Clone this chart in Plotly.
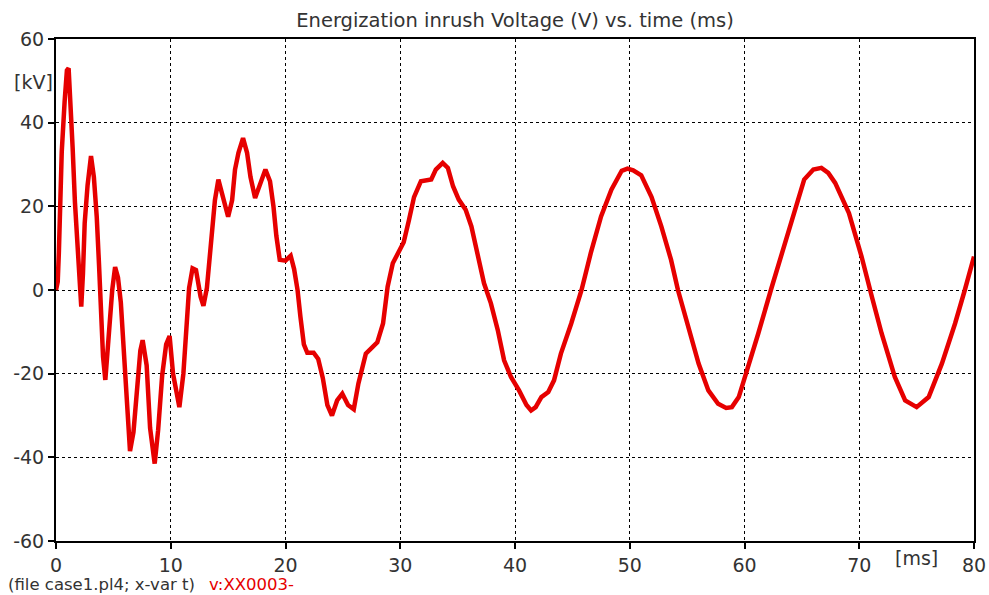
import plotly.graph_objects as go

# time (ms) and voltage (kV)
t_ms = [0.0, 0.15, 0.25, 0.35, 0.5, 0.75, 0.95, 1.1, 1.25, 1.45, 1.65, 1.9, 2.1, 2.2, 2.35, 2.5,
        2.75, 3.05, 3.3, 3.55, 3.75, 3.9, 4.1, 4.3, 4.6, 4.9, 5.15, 5.4, 5.65, 5.9, 6.15, 6.45,
        6.75, 7.05, 7.35, 7.55, 7.9, 8.2, 8.6, 8.9, 9.25, 9.6, 9.9, 10.2, 10.5, 10.75, 11.1,
        11.4, 11.6, 11.9, 12.2, 12.6, 12.85, 13.15, 13.4, 13.65, 13.85, 14.15, 14.5, 15.0,
        15.35, 15.6, 15.9, 16.3, 16.65, 16.95, 17.35, 17.8, 18.25, 18.65, 18.95, 19.2, 19.5,
        20.0, 20.45, 20.75, 21.05, 21.3, 21.6, 21.9, 22.45, 22.85, 23.25, 23.65, 24.05, 24.5,
        24.95, 25.45, 25.95, 26.35, 27.0, 27.6, 28.0, 28.5, 28.9, 29.35, 29.8, 30.3, 30.75,
        31.2, 31.8, 32.7, 33.1, 33.7, 34.15, 34.6, 35.1, 35.7, 36.2, 36.8, 37.3, 37.9, 38.5,
        39.05, 39.65, 40.35, 41.0, 41.4, 41.8, 42.3, 42.9, 43.4, 44.0, 44.9, 45.8, 46.6, 47.5,
        48.4, 49.3, 49.8, 50.3, 51.0, 51.9, 52.75, 53.6, 54.2, 55.1, 56.0, 56.85, 57.7, 58.4,
        58.9, 59.5, 60.35, 61.2, 62.3, 63.5, 64.4, 65.2, 66.0, 66.7, 67.3, 67.9, 69.1, 70.2,
        71.1, 71.95, 73.1, 74.0, 75.0, 76.05, 77.2, 78.35, 79.2, 80.0]
v_kv = [0, 2, 9, 20, 33, 45, 52.5, 53, 46, 34, 21, 8, -1, -4, 4, 16,
        25, 32, 27, 17.5, 6, -6, -16, -21.5, -10, 0, 5.5, 3, -3, -14, -27, -38.5,
        -34, -23, -14.5, -12, -18, -33, -41.5, -33.5, -20.5, -13, -11, -20, -25, -28, -20,
        -6.5, 0.5, 5.2, 4.8, -1.6, -3.8, 0.5, 8.5, 15, 21.5, 26.4, 23, 17.5,
        21.5, 28.8, 32.8, 36.3, 32.8, 27, 22, 25.6, 28.8, 26, 20, 13, 7.2,
        7, 8.2, 5, 0, -6.4, -13, -15, -15, -16.5, -21, -27.5, -30, -26.4,
        -24.8, -27.5, -28.5, -22.4, -15.2, -13.6, -12.5, -8, 0.8, 6.4, 8.8, 11.4, 16.6,
        22.2, 26, 26.4, 28.8, 30.4, 29.2, 24.8, 21.6, 19.2, 15.2, 8, 1.6, -3.2, -9.6,
        -16.8, -20.8, -24, -27.5, -28.8, -28, -25.6, -24.4, -21.6, -15.2, -8, 0, 8.8, 17.6,
        24, 28.5, 29, 28.6, 27.4, 22.2, 15.2, 7.2, 0, -8.8, -17.6, -24, -27.2, -28.2,
        -28, -25.6, -18.4, -10.4, 0, 11, 19.9, 26.4, 28.8, 29.2, 28, 25.6, 18.4, 8,
        -1.6, -10.4, -20.8, -26.4, -28, -25.6, -17.6, -8, 0, 8]

x_ticks = [0, 10, 20, 30, 40, 50, 60, 70, 80]
y_ticks = [-60, -40, -20, 0, 20, 40, 60]

font = "DejaVu Sans, Liberation Sans, Arial, sans-serif"
txt = "#333"

fig = go.Figure()
fig.add_trace(go.Scatter(x=t_ms, y=v_kv, mode="lines",
                         line=dict(color="#e60000", width=4.5), showlegend=False))

axis_common = dict(showline=True, linecolor="black", linewidth=2, mirror=True,
                   ticks="outside", ticklen=6, tickwidth=2, tickcolor="black",
                   showgrid=True, gridcolor="black", gridwidth=1, griddash="dot",
                   zeroline=False, automargin=False,
                   tickfont=dict(size=19, color=txt, family=font))

fig.update_xaxes(range=[0, 80], tickvals=x_ticks, ticktext=[str(v) for v in x_ticks], **axis_common)
fig.update_yaxes(range=[-60, 60], tickvals=y_ticks, ticktext=[str(v) for v in y_ticks], **axis_common)

fig.update_layout(
    width=989, height=595,
    margin=dict(l=56, r=15, t=39, b=54, autoexpand=False),
    plot_bgcolor="white", paper_bgcolor="white",
    title=dict(text="Energization inrush Voltage (V) vs. time (ms)", xref="paper", x=0.5,
               xanchor="center", y=0.966, yanchor="middle",
               font=dict(size=19.5, color=txt, family=font)),
    annotations=[
        dict(text="[kV]", xref="paper", yref="paper", x=-0.048, y=0.915, xanchor="left",
             yanchor="middle", showarrow=False, font=dict(size=19, color=txt, family=font)),
        dict(text="[ms]", xref="x", yref="paper", x=75, y=-0.008, xanchor="center",
             yanchor="top", showarrow=False, font=dict(size=19, color=txt, family=font)),
        dict(text="(file case1.pl4; x-var t)", xref="paper", yref="paper", x=-0.055, y=-0.086,
             xanchor="left", yanchor="middle", showarrow=False,
             font=dict(size=16.5, color=txt, family=font)),
        dict(text="v:XX0003-", xref="paper", yref="paper", x=0.165, y=-0.086,
             xanchor="left", yanchor="middle", showarrow=False,
             font=dict(size=16.5, color="#e60000", family=font)),
    ],
)

fig.write_html("out.html", config={"displayModeBar": False},
               post_script="document.body.style.margin='0px';document.body.style.overflow='hidden';")
